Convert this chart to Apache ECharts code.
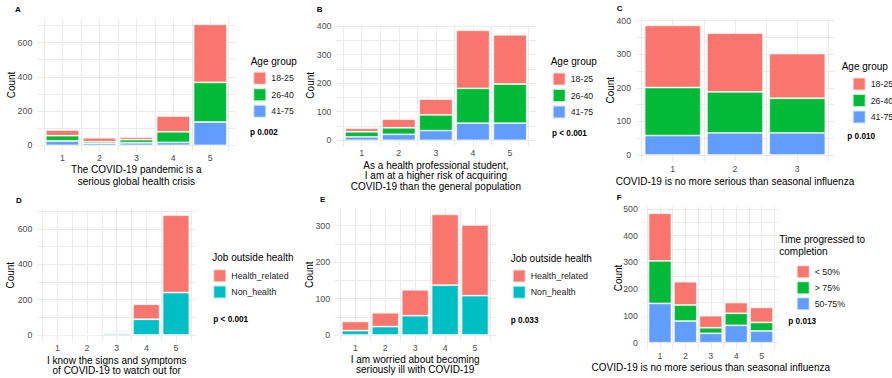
<!DOCTYPE html>
<html>
<head>
<meta charset="utf-8">
<script src="https://cdn.jsdelivr.net/npm/echarts@6/dist/echarts.min.js"></script>
<style>html,body{margin:0;padding:0;background:#fff;}#chart{width:892px;height:378px;}</style>
</head>
<body>
<div id="chart"></div>
<script>
// ---------------- data ----------------
const likert5 = ['1', '2', '3', '4', '5'];
const likert3 = ['1', '2', '3'];

const ageGroups = ['18-25', '26-40', '41-75'];
const jobGroups = ['Health_related', 'Non_health'];
const timeGroups = ['< 50%', '> 75%', '50-75%'];

// Panel A: The COVID-19 pandemic is a serious global health crisis
const panelA_18_25 = [33, 23, 15, 92, 339];
const panelA_26_40 = [31, 9, 18, 62, 232];
const panelA_41_75 = [25, 12, 15, 17, 136];
// Panel B: higher risk of acquiring COVID-19
const panelB_18_25 = [12, 30, 55, 203, 172];
const panelB_26_40 = [18, 23, 55, 122, 137];
const panelB_41_75 = [12, 21, 34, 60, 60];
// Panel C: no more serious than seasonal influenza
const panelC_18_25 = [185, 175, 133];
const panelC_26_40 = [143, 122, 103];
const panelC_41_75 = [58, 66, 66];
// Panel D: signs and symptoms
const panelD_health = [3, 3, 5, 85, 438];
const panelD_non = [2, 2, 8, 89, 240];
// Panel E: worried about becoming seriously ill
const panelE_health = [25, 38, 71, 194, 194];
const panelE_non = [12, 23, 53, 137, 108];
// Panel F: time progressed to completion
const panelF_lt50 = [178, 87, 45, 40, 56];
const panelF_gt75 = [159, 60, 21, 45, 32];
const panelF_50_75 = [147, 81, 35, 65, 44];

const xTitles = [
  'The COVID-19 pandemic is a\nserious global health crisis',
  'As a health professional student,\nI am at a higher risk of acquiring\nCOVID-19 than the general population',
  'COVID-19 is no more serious than seasonal influenza',
  'I know the signs and symptoms\nof COVID-19 to watch out for',
  'I am worried about becoming\nseriously ill with COVID-19',
  'COVID-19 is no more serious than seasonal influenza'
];
const yTitle = 'Count';
const panelLetters = ['A', 'B', 'C', 'D', 'E', 'F'];
const legendTitles = ['Age group', 'Age group', 'Age group', 'Job outside health', 'Job outside health', 'Time progressed to\ncompletion'];
const pValues = ['p 0.002', 'p < 0.001', 'p 0.010', 'p < 0.001', 'p 0.033', 'p 0.013'];

// ---------------- styles / layout ----------------
const FONT = '"Liberation Sans", Arial, Helvetica, sans-serif';
const GRID_COLOR = '#EBEBEB';
const colorsAge = ['#F8766D', '#00BA38', '#619CFF'];
const colorsJob = ['#F8766D', '#00BFC4'];

const panels = [
  { cats: likert5, groups: ageGroups, colors: colorsAge, values: [panelA_18_25, panelA_26_40, panelA_41_75],
    x05: 44, band: 36.94, y0: 145.3, yTop: 25.5, topVal: 700, step: 100, major: 200, pTop: 18.7, pBot: 151.3,
    xGap: 12, xLH: 12, yGap: 28, letter: [15, 9], lt: [250.7, 61], lg: [252.3, 70.7, 1.5], pv: [250, 132.3] },
  { cats: likert5, groups: ageGroups, colors: colorsAge, values: [panelB_18_25, panelB_26_40, panelB_41_75],
    x05: 343.2, band: 37.08, y0: 140.3, yTop: 26.0, topVal: 400, step: 50, major: 100, pTop: 24.8, pBot: 145.8,
    xGap: 14, xLH: 10.5, yGap: 28, letter: [316.7, 9], lt: [550.7, 61.7], lg: [551.7, 71.5, 1.5], pv: [552, 133.3] },
  { cats: likert3, groups: ageGroups, colors: colorsAge, values: [panelC_18_25, panelC_26_40, panelC_41_75],
    x05: 641.55, band: 62.3, y0: 155, yTop: 20.7, topVal: 400, step: 50, major: 100, pTop: 18.9, pBot: 161.5,
    xGap: 14.5, xLH: 10.5, yGap: 26.5, letter: [616.7, 8], lt: [841.7, 66.7], lg: [851.7, 76.5, 1.5], pv: [847.3, 136.7] },
  { cats: likert5, groups: jobGroups, colors: colorsJob, values: [panelD_health, panelD_non],
    x05: 42.6, band: 29.64, y0: 335, yTop: 211.3, topVal: 700, step: 100, major: 200, pTop: 209.4, pBot: 341,
    xGap: 13.75, xLH: 10.5, yGap: 27, letter: [16, 200], lt: [212.3, 257.7], lg: [212.3, 268.3, 1.3], pv: [213.3, 319] },
  { cats: likert5, groups: jobGroups, colors: colorsJob, values: [panelE_health, panelE_non],
    x05: 340.4, band: 29.92, y0: 335, yTop: 225.7, topVal: 300, step: 50, major: 100, pTop: 208.4, pBot: 341,
    xGap: 12.75, xLH: 10.5, yGap: 25.5, letter: [320, 199], lt: [510.7, 258.3], lg: [511.7, 268.5, 1.3], pv: [510.7, 320] },
  { cats: likert5, groups: timeGroups, colors: colorsAge, values: [panelF_lt50, panelF_gt75, panelF_50_75],
    x05: 647.3, band: 25.4, y0: 342.7, yTop: 209, topVal: 500, step: 50, major: 100, pTop: 206.8, pBot: 349.2,
    xGap: 13.25, xLH: 10.5, yGap: 24, letter: [616.7, 197], lt: [779.3, 239.3], lg: [795.7, 264.3, 1.0], pv: [788.3, 321.7], ltLH: 12.4 }
];

const grid = [], xAxis = [], yAxis = [], series = [], legend = [], title = [];

function text(t, x, yc, size, bold, lh) {
  title.push({
    text: t, left: x, top: yc - lh / 2, padding: 0, itemGap: 0,
    textStyle: { fontFamily: FONT, fontSize: size, fontWeight: bold ? 'bold' : 'normal', color: '#000', lineHeight: lh }
  });
}

panels.forEach((p, pi) => {
  const n = p.cats.length;
  const minV = 0.55 - 0.05 * (n - 0.1);           // continuous-scale expansion (ggplot style)
  const ext = (0.5 - minV) * p.band;
  const pLeft = p.x05 - ext;
  const pWidth = n * p.band + 2 * ext;

  // 1) horizontal grid lines + y tick labels (full panel width)
  const hIdx = grid.length;
  grid.push({ left: pLeft, top: p.yTop, width: pWidth, height: p.y0 - p.yTop });
  xAxis.push({ gridIndex: hIdx, type: 'value', min: 0, max: 1, show: false });
  yAxis.push({
    gridIndex: hIdx, type: 'value', min: 0, max: p.topVal, interval: p.step,
    axisLine: { show: false }, axisTick: { show: false },
    splitLine: { show: true, lineStyle: { color: GRID_COLOR, width: 1 } },
    axisLabel: {
      margin: 4.5, fontFamily: FONT, fontSize: 8.8, color: '#4D4D4D',
      formatter: v => (v % p.major === 0 ? String(v) : '')
    }
  });

  // 2) vertical grid lines, category labels, axis titles (full panel height)
  const vIdx = grid.length;
  grid.push({ left: p.x05, top: p.pTop, width: n * p.band, height: p.pBot - p.pTop });
  xAxis.push({
    gridIndex: vIdx, type: 'value', min: 0.5, max: n + 0.5, interval: 0.5,
    axisLine: { show: false }, axisTick: { show: false },
    splitLine: { show: true, lineStyle: { color: GRID_COLOR, width: 1 } },
    axisLabel: {
      margin: 2.5, fontFamily: FONT, fontSize: 8.8, color: '#4D4D4D',
      formatter: v => (Number.isInteger(v) ? p.cats[v - 1] : '')
    },
    name: xTitles[pi], nameLocation: 'middle', nameGap: p.xGap,
    nameTextStyle: { fontFamily: FONT, fontSize: 10, color: '#000', lineHeight: p.xLH }
  });
  yAxis.push({
    gridIndex: vIdx, type: 'value', min: 0, max: 1,
    axisLine: { show: false }, axisTick: { show: false }, axisLabel: { show: false }, splitLine: { show: false },
    name: yTitle, nameLocation: 'middle', nameGap: p.yGap,
    nameTextStyle: { fontFamily: FONT, fontSize: 10, color: '#000' }
  });

  // 3) bars on a category axis
  const bIdx = grid.length;
  grid.push({ left: p.x05, top: p.yTop, width: n * p.band, height: p.y0 - p.yTop });
  xAxis.push({ gridIndex: bIdx, type: 'category', data: p.cats, boundaryGap: true, show: false });
  yAxis.push({ gridIndex: bIdx, type: 'value', min: 0, max: p.topVal, show: false });
  const bx = xAxis.length - 1, by = yAxis.length - 1;

  const order = p.groups.map((g, i) => i).reverse();   // first level on top
  order.forEach(gi => {
    series.push({
      type: 'bar', name: p.groups[gi], xAxisIndex: bx, yAxisIndex: by,
      stack: 'panel' + pi, clip: false, barWidth: '90%',
      data: p.values[gi],
      itemStyle: { color: p.colors[gi], borderColor: 'rgba(255,255,255,0.75)', borderWidth: 0.8 },
      emphasis: { disabled: true }, silent: true
    });
  });

  legend.push({
    orient: 'vertical', left: p.lg[0], top: p.lg[1], padding: 0, itemGap: p.lg[2],
    itemWidth: 13, itemHeight: 13, icon: 'rect', selectedMode: false,
    data: p.groups.slice(),
    textStyle: { fontFamily: FONT, fontSize: 8.8, color: '#1A1A1A' }
  });

  text(panelLetters[pi], p.letter[0], p.letter[1], 8, true, 10);
  text(legendTitles[pi], p.lt[0], p.lt[1], 10, false, p.ltLH || 12);
  text(pValues[pi], p.pv[0], p.pv[1], 8.2, true, 10);
});

const chart = echarts.init(document.getElementById('chart'), null, { renderer: 'svg' });
chart.setOption({
  animation: false,
  backgroundColor: '#fff',
  textStyle: { fontFamily: FONT },
  grid, xAxis, yAxis, series, legend, title
});
</script>
</body>
</html>
